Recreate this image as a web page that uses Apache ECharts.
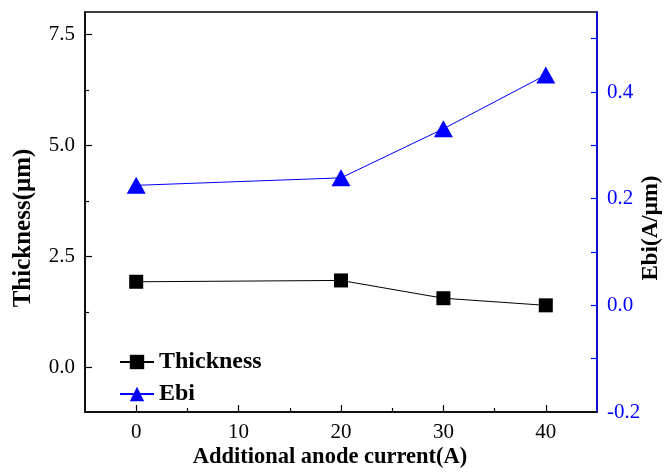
<!DOCTYPE html>
<html>
<head>
    <meta charset="utf-8">
    <title>Thickness / Ebi</title>
    <script src="https://cdnjs.cloudflare.com/ajax/libs/echarts/6.0.0/echarts.min.js"></script>
</head>
<body style="margin:0">
<div id="main" style="width: 664px;height:473px;"></div>
<script type="text/javascript">
    // data
    var current = [0, 20, 30, 40];
    var thickness = [1.93, 1.96, 1.56, 1.40];
    var ebi = [0.225, 0.239, 0.331, 0.432];

    var xLabels = [0, 10, 20, 30, 40];
    var xMinor = [5, 15, 25, 35];
    var leftLabels = [0, 2.5, 5, 7.5];
    var leftMinor = [1.25, 3.75, 6.25];
    var rightLabels = [-0.2, 0, 0.2, 0.4];
    var rightTicks = [-0.1, 0, 0.1, 0.2, 0.3, 0.4, 0.5];

    function pairs(xs, ys) {
        return xs.map(function (x, i) { return [x, ys[i]]; });
    }

    var font = '"Liberation Serif", "DejaVu Serif", serif';
    var blue = '#0000ff';

    var myChart = echarts.init(document.getElementById('main'));
    var option = {
        animation: false,
        textStyle: {fontFamily: font},
        grid: {
            left: 85, right: 67, top: 12, bottom: 61,
            outerBoundsMode: 'none',
            show: true, borderColor: '#000', borderWidth: 1.5, backgroundColor: '#fff'
        },
        legend: {
            orient: 'vertical',
            left: 114,
            top: 345,
            itemWidth: 34,
            itemHeight: 18,
            itemGap: 8,
            textStyle: {fontFamily: font, fontSize: 24, fontWeight: 'bold', color: '#000'},
            data: ['Thickness', 'Ebi']
        },
        xAxis: [{
            type: 'value', min: -5, max: 45,
            name: 'Additional anode current(A)',
            nameLocation: 'middle', nameGap: 34, nameMoveOverlap: false,
            nameTextStyle: {fontFamily: font, fontSize: 22.5, fontWeight: 'bold', color: '#000', padding: [0, 22, 0, 0]},
            axisLine: {onZero: false, lineStyle: {color: '#000', width: 1.5}},
            axisTick: {inside: true, length: 7, customValues: xLabels, lineStyle: {color: '#000', width: 1.2}},
            axisLabel: {customValues: xLabels, margin: 10, fontSize: 21, color: '#000', fontFamily: font},
            splitLine: {show: false}
        }, {
            type: 'value', min: -5, max: 45, position: 'bottom',
            axisLine: {show: false, onZero: false},
            axisTick: {inside: true, length: 4, customValues: xMinor, lineStyle: {color: '#000', width: 1.2}},
            axisLabel: {show: false},
            splitLine: {show: false}
        }],
        yAxis: [{
            type: 'value', min: -1, max: 8, position: 'left',
            name: 'Thickness(μm)',
            nameLocation: 'middle', nameGap: 49, nameRotate: 90, nameMoveOverlap: false,
            nameTextStyle: {fontFamily: font, fontSize: 25, fontWeight: 'bold', color: '#000', padding: [0, 32, 0, 0]},
            axisLine: {show: true, onZero: false, lineStyle: {color: '#000', width: 1.5}},
            axisTick: {show: true, inside: true, length: 7, customValues: leftLabels, lineStyle: {color: '#000', width: 1.2}},
            axisLabel: {
                customValues: leftLabels, margin: 10, fontSize: 21, color: '#000', fontFamily: font,
                formatter: function (v) { return v.toFixed(1); }
            },
            splitLine: {show: false}
        }, {
            type: 'value', min: -1, max: 8, position: 'left',
            axisLine: {show: false, onZero: false},
            axisTick: {show: true, inside: true, length: 4, customValues: leftMinor, lineStyle: {color: '#000', width: 1.2}},
            axisLabel: {show: false},
            splitLine: {show: false}
        }, {
            type: 'value', min: -0.2, max: 0.55, position: 'right',
            name: 'Ebi(A/μm)',
            nameLocation: 'middle', nameGap: 43, nameRotate: 90, nameMoveOverlap: false,
            nameTextStyle: {fontFamily: font, fontSize: 23, fontWeight: 'bold', color: '#000', padding: [0, 32, 0, 0]},
            axisLine: {show: true, onZero: false, lineStyle: {color: blue, width: 1.5}},
            axisTick: {show: true, inside: true, length: 6, customValues: rightTicks, lineStyle: {color: blue, width: 1.2}},
            axisLabel: {
                customValues: rightLabels, margin: 10, fontSize: 21, color: blue, fontFamily: font,
                formatter: function (v) { return v.toFixed(1); }
            },
            splitLine: {show: false}
        }],
        series: [{
            name: 'Thickness',
            type: 'line',
            xAxisIndex: 0, yAxisIndex: 0,
            symbol: 'rect', symbolSize: 14,
            itemStyle: {color: '#000'},
            lineStyle: {color: '#000', width: 1},
            data: pairs(current, thickness)
        }, {
            name: 'Ebi',
            type: 'line',
            xAxisIndex: 0, yAxisIndex: 2,
            symbol: 'triangle', symbolSize: [19, 17],
            itemStyle: {color: blue},
            lineStyle: {color: blue, width: 1},
            data: pairs(current, ebi)
        }]
    };
    myChart.setOption(option);
</script>
</body>
</html>
